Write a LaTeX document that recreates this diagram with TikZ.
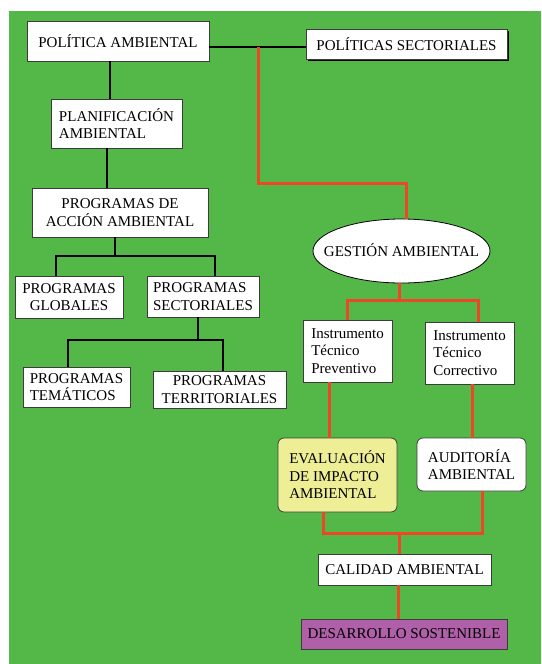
\documentclass[tikz,border=0pt]{standalone}
\usepackage{fontspec}
\setmainfont{Liberation Serif}
\usetikzlibrary{shapes.geometric,shadows,calc}
\definecolor{bggreen}{RGB}{84,184,72}
\definecolor{redline}{RGB}{240,70,40}
\definecolor{paleyellow}{RGB}{238,238,150}
\definecolor{mauve}{RGB}{176,96,168}
\definecolor{edgegray}{RGB}{60,60,60}
\tikzset{
  box/.style={draw=edgegray, line width=0.8pt, fill=white, inner sep=0pt,
    font=\fontsize{15}{17.5}\selectfont, text=black},
  blk/.style={draw=black, line width=1.6pt},
  rdl/.style={draw=redline, line width=3pt},
}
\begin{document}
\begin{tikzpicture}[x=1pt,y=-1pt]
\useasboundingbox (0,0) rectangle (541,664);
\fill[white] (0,0) rectangle (541,664);
\fill[bggreen] (9,11) rectangle (541,664);

% nodes
\node[box, minimum width=182pt, minimum height=40pt] (pa) at (118,41) {POLÍTICA AMBIENTAL};
\node[box, minimum width=201pt, minimum height=30pt,
  drop shadow={shadow xshift=2pt, shadow yshift=-2pt, opacity=1, fill=black}] (ps) at (406.5,44) {POLÍTICAS SECTORIALES};
\node[box, align=left, minimum width=131pt, minimum height=49pt] (pl) at (116.5,123.5) {PLANIFICACIÓN\\AMBIENTAL};
\node[box, align=center, minimum width=176pt, minimum height=49pt] (pda) at (120,212.5) {PROGRAMAS DE\\ACCIÓN AMBIENTAL};
\node[box, align=center, minimum width=108pt, minimum height=42pt] (pg) at (69,297) {PROGRAMAS\\GLOBALES};
\node[box, align=left, minimum width=112pt, minimum height=41pt] (psec) at (203,296.5) {PROGRAMAS\\SECTORIALES};
\node[box, align=left, minimum width=107pt, minimum height=40pt] (pt) at (76.5,387) {PROGRAMAS\\TEMÁTICOS};
\node[box, align=center, minimum width=133pt, minimum height=37pt] (pter) at (219.5,389.5) {PROGRAMAS\\TERRITORIALES};
\node[box, draw=black, ellipse, minimum width=177pt, minimum height=64pt] (ga) at (401.5,251) {\makebox[0pt]{\raisebox{-0.35em}[0pt][0pt]{GESTIÓN AMBIENTAL}}};
\node[box, align=left, minimum width=89pt, minimum height=62pt] (itp) at (347.5,351) {Instrumento\\Técnico\\Preventivo};
\node[box, align=left, minimum width=89pt, minimum height=62pt] (itc) at (469.5,353) {Instrumento\\Técnico\\Correctivo};
\node[box, align=left, fill=paleyellow, rounded corners=6pt, minimum width=119pt, minimum height=74pt] (eia) at (337.5,475) {EVALUACIÓN\\DE IMPACTO\\AMBIENTAL};
\node[box, align=left, rounded corners=6pt, minimum width=109pt, minimum height=53pt] (aud) at (471.5,464.5) {AUDITORÍA\\AMBIENTAL};
\node[box, minimum width=173pt, minimum height=31pt] (cal) at (404.5,569.5) {CALIDAD AMBIENTAL};
\node[box, fill=mauve, minimum width=206pt, minimum height=30pt] (des) at (404,634) {DESARROLLO SOSTENIBLE};

% black connectors
\coordinate (j) at (258,47);
\draw[blk] (pa.east |- j) -- (ps.west |- j);
\draw[blk] ([xshift=-8pt]pa.south) -- ([xshift=-8pt]pa.south |- pl.north);
\draw[blk] ([xshift=-9.5pt]pl.south) -- ([xshift=-9.5pt]pl.south |- pda.north);
\coordinate (b1) at (115,256);
\draw[blk] (pda.south -| b1) -- (b1);
\draw[blk] ([xshift=-13pt]pg.north) |- (b1) -| ([xshift=12pt]psec.north);
\coordinate (b2) at (198,340);
\draw[blk] (psec.south -| b2) -- (b2);
\draw[blk] ([xshift=-8.5pt]pt.north) |- (b2) -| ([xshift=3.5pt]pter.north);

% red connectors
\coordinate (r1) at (406,183);
\draw[rdl] (j) |- (r1) -- (r1 |- ga.north);
\coordinate (r2) at (399,300);
\draw[rdl] ([xshift=-2.5pt]ga.south) -- (r2);
\draw[rdl] ([xshift=-0.5pt]itp.north) |- (r2) -| ([xshift=8.5pt]itc.north);
\draw[rdl] ([xshift=-18.5pt]itp.south) -- ([xshift=-18.5pt]itp.south |- eia.north);
\draw[rdl] ([xshift=2.5pt]itc.south) -- ([xshift=2.5pt]itc.south |- aud.north);
\coordinate (r3) at (399,533);
\draw[rdl] ([xshift=-14.5pt]eia.south) |- (r3) -| ([xshift=10.5pt]aud.south);
\draw[rdl] (r3) -- (r3 |- cal.north);
\draw[rdl] ([xshift=-6.5pt]cal.south) -- ([xshift=-6.5pt]cal.south |- des.north);
\end{tikzpicture}
\end{document}
